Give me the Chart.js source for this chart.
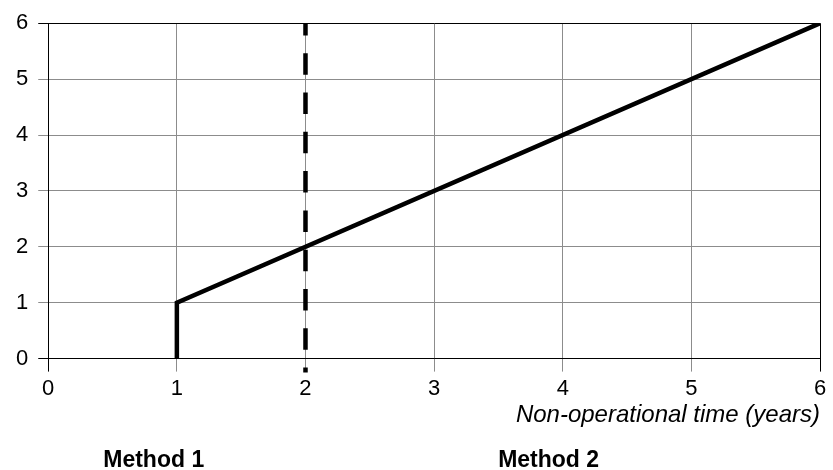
<!DOCTYPE html>
<html>
<head>
<meta charset="utf-8">
<script src="https://cdn.jsdelivr.net/npm/chart.js@4"></script>
<style>
    html, body { margin: 0; padding: 0; background: #fff; }
    #wrap { width: 833px; height: 470px; }
</style>
</head>
<body>
<div id="wrap"><canvas id="chart" width="833" height="470"></canvas></div>
<script>
// values
const lineX = [1, 1, 6];
const lineY = [0, 1, 6];
const dividerX = [2, 2];
const dividerY = [6, -0.25];
const methodLabels = ['Method 1', 'Method 2'];
const methodAt = [0.82, 3.89];
const axisTitle = 'Non-operational time (years)';

Chart.defaults.font.family = '"Liberation Sans", Arial, sans-serif';
Chart.defaults.font.size = 22;
Chart.defaults.color = '#000';

const toPoints = (xs, ys) => xs.map((x, i) => ({ x: x, y: ys[i] }));

// black on the frame, grey inside
const gridColor = (ctx) => {
    const v = ctx.tick ? ctx.tick.value : null;
    return (v === 0 || v === 6) ? '#000' : '#8c8c8c';
};

const methodText = {
    id: 'methodText',
    afterDraw(chart) {
        const c = chart.ctx;
        const xScale = chart.scales.x;
        c.save();
        c.font = 'bold 23px "Liberation Sans", Arial, sans-serif';
        c.fillStyle = '#000';
        c.textAlign = 'center';
        c.textBaseline = 'alphabetic';
        methodLabels.forEach((label, i) => {
            c.fillText(label, xScale.getPixelForValue(methodAt[i]), 467);
        });
        c.restore();
    }
};

var ctx = document.getElementById('chart').getContext('2d');

new Chart(ctx, {
    type: 'scatter',
    data: {
        datasets: [{
            data: toPoints(lineX, lineY),
            showLine: true,
            borderColor: '#000',
            borderWidth: 4.5,
            pointRadius: 0,
            tension: 0
        }, {
            data: toPoints(dividerX, dividerY),
            showLine: true,
            borderColor: '#000',
            borderWidth: 4.5,
            borderDash: [21.5, 17.8],
            borderDashOffset: 9.3,
            borderCapStyle: 'butt',
            pointRadius: 0,
            clip: false
        }]
    },
    plugins: [methodText],
    options: {
        responsive: false,
        animation: false,
        layout: {
            padding: { top: 1, right: 13, bottom: 43, left: 6 }
        },
        plugins: {
            legend: { display: false },
            tooltip: { enabled: false }
        },
        scales: {
            x: {
                type: 'linear',
                min: 0,
                max: 6,
                ticks: { stepSize: 1, padding: 4, maxRotation: 0 },
                grid: { color: gridColor, lineWidth: 1, tickLength: 13 },
                border: { display: true, color: '#000', width: 1 },
                title: {
                    display: true,
                    text: axisTitle,
                    align: 'end',
                    font: { size: 24, style: 'italic', lineHeight: 1 },
                    padding: { top: -3, bottom: 0 }
                }
            },
            y: {
                min: 0,
                max: 6,
                ticks: { stepSize: 1, padding: 10 },
                grid: { color: gridColor, lineWidth: 1, tickLength: 10 },
                border: { display: true, color: '#000', width: 1 }
            }
        }
    }
});
</script>
</body>
</html>
